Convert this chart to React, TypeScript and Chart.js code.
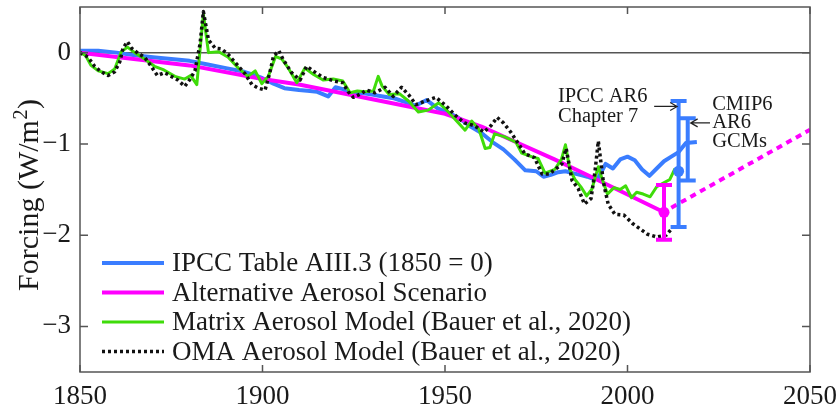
import React, { useEffect, useRef } from "react";
import { Chart, registerables } from "chart.js";

Chart.register(...registerables);

const FONT = '"Liberation Serif", "Times New Roman", serif';

const X_TICKS = [1850, 1900, 1950, 2000, 2050];
const Y_TICKS = [-3, -2, -1, 0];
const Y_TICK_LABELS = ["−3", "−2", "−1", "0"];
const Y_TITLE_MAIN = "Forcing (W/m";
const Y_TITLE_SUP = "2";
const Y_TITLE_END = ")";

const IPCC_YEARS = [1850, 1855, 1860, 1865, 1870, 1875, 1880, 1885, 1890, 1895, 1898, 1900, 1903, 1906, 1910, 1913, 1915, 1918, 1920, 1922, 1924, 1927, 1930, 1933, 1936, 1939, 1942, 1945, 1948, 1951, 1953, 1955, 1957, 1960, 1963, 1966, 1969, 1972, 1975, 1977, 1979, 1981, 1983, 1985, 1987, 1989, 1991, 1992, 1994, 1996, 1998, 2000, 2002, 2004, 2006, 2008, 2010, 2012, 2014, 2016, 2019];
const IPCC_VALUES = [0.02, 0.02, 0.0, -0.03, -0.05, -0.07, -0.09, -0.13, -0.17, -0.21, -0.25, -0.28, -0.34, -0.39, -0.41, -0.42, -0.43, -0.48, -0.38, -0.40, -0.45, -0.44, -0.46, -0.48, -0.50, -0.54, -0.58, -0.52, -0.61, -0.66, -0.70, -0.75, -0.81, -0.88, -0.98, -1.06, -1.17, -1.29, -1.30, -1.36, -1.34, -1.31, -1.30, -1.32, -1.34, -1.36, -1.39, -1.37, -1.22, -1.27, -1.17, -1.14, -1.18, -1.28, -1.35, -1.27, -1.19, -1.14, -1.09, -0.99, -0.98];

const ALT_YEARS = [1850, 1880, 1900, 1910, 1925, 1940, 1950, 1960, 1970, 1980, 1990, 2010];
const ALT_VALUES = [0, -0.14, -0.29, -0.35, -0.47, -0.59, -0.67, -0.81, -0.99, -1.17, -1.36, -1.75];

const ALT_PROJ_YEARS = [2012, 2050];
const ALT_PROJ_VALUES = [-1.7, -0.845];

const MATRIX_YEARS = [1850, 1851.5, 1853, 1855, 1857.7, 1859.5, 1861.3, 1863, 1865, 1867.7, 1870.4, 1873, 1876, 1878.7, 1880.3, 1882, 1883.8, 1885.2, 1888, 1890.6, 1893.4, 1896, 1898, 1899.8, 1901.6, 1903.6, 1905.3, 1907.1, 1909.4, 1911.6, 1914, 1916.6, 1919.4, 1922, 1924, 1926, 1928, 1930.4, 1931.7, 1932.8, 1934.7, 1937.5, 1940, 1942.7, 1945.4, 1948.3, 1950, 1952.5, 1955.5, 1957.3, 1959.3, 1961, 1962.3, 1963.6, 1966.2, 1969.4, 1971, 1973.7, 1975.5, 1977.4, 1980.1, 1981.9, 1983, 1984.2, 1985.6, 1987.4, 1988.8, 1990.2, 1992, 1993, 1994.5, 1996.3, 1998, 1999.5, 2001.1, 2002.5, 2004.3, 2006.2, 2008, 2009.8, 2011.6, 2013];
const MATRIX_VALUES = [0.0, -0.03, -0.14, -0.2, -0.23, -0.18, 0.01, 0.06, 0.0, -0.07, -0.15, -0.19, -0.26, -0.29, -0.25, -0.35, 0.42, 0.0, 0.01, -0.05, -0.17, -0.26, -0.2, -0.34, -0.26, -0.04, -0.07, -0.17, -0.33, -0.17, -0.24, -0.3, -0.29, -0.31, -0.44, -0.42, -0.43, -0.42, -0.26, -0.37, -0.46, -0.45, -0.53, -0.65, -0.63, -0.55, -0.61, -0.72, -0.85, -0.75, -0.84, -1.05, -1.04, -0.89, -0.92, -0.98, -1.1, -1.14, -1.16, -1.32, -1.28, -1.17, -1.01, -1.28, -1.39, -1.48, -1.57, -1.5, -1.25, -1.38, -1.55, -1.48, -1.5, -1.46, -1.59, -1.53, -1.55, -1.58, -1.47, -1.43, -1.39, -1.27];

const OMA_YEARS = [1850, 1852.2, 1854, 1855.8, 1857.7, 1859.5, 1860.9, 1861.8, 1863, 1864.1, 1866, 1867.7, 1869.5, 1871.2, 1873.2, 1875, 1876.8, 1878.7, 1880, 1881.5, 1882.9, 1883.8, 1885.2, 1887, 1888.8, 1890.6, 1893, 1895.2, 1897.1, 1898.9, 1900.7, 1902, 1903, 1904.5, 1905.7, 1908, 1910.3, 1912.1, 1914.2, 1916.5, 1919.5, 1922, 1923.5, 1924.9, 1927, 1928.5, 1930.8, 1933.6, 1935.8, 1938.1, 1940.2, 1942, 1944.7, 1947.5, 1950.2, 1952.9, 1955.3, 1958, 1960.7, 1962.6, 1964.3, 1966, 1968, 1970, 1971.9, 1974.5, 1976.6, 1978.5, 1980.2, 1982, 1983.2, 1984.8, 1986.5, 1988.2, 1990, 1991.1, 1992, 1993.4, 1994.7, 1996.5, 1999, 2001.3, 2003.4, 2005.5, 2008, 2010.6, 2012.5];
const OMA_VALUES = [0.0, -0.05, -0.15, -0.21, -0.25, -0.21, -0.1, 0.05, 0.12, 0.05, -0.01, -0.05, -0.15, -0.25, -0.22, -0.26, -0.3, -0.37, -0.3, -0.2, 0.1, 0.45, 0.14, 0.05, 0.04, -0.02, -0.13, -0.23, -0.35, -0.39, -0.41, -0.22, -0.04, 0.02, -0.08, -0.22, -0.3, -0.15, -0.21, -0.27, -0.31, -0.33, -0.43, -0.49, -0.45, -0.41, -0.44, -0.38, -0.48, -0.38, -0.47, -0.57, -0.53, -0.49, -0.58, -0.69, -0.77, -0.8, -0.87, -0.8, -0.71, -0.77, -0.87, -0.99, -1.11, -1.15, -1.33, -1.33, -1.28, -1.22, -1.05, -1.4, -1.49, -1.66, -1.6, -1.3, -0.97, -1.42, -1.66, -1.77, -1.78, -1.87, -1.93, -1.99, -2.02, -2.0, -1.91];

// Error bars: Alternative (2010), IPCC AR6 Chapter 7 (2014), CMIP6 AR6 GCMs (2016.5)
const ERR_YEARS = [2010, 2014, 2016.5];
const ERR_LOW = [-2.05, -1.91, -1.4];
const ERR_HIGH = [-1.45, -0.53, -0.72];
const ERR_MID = [-1.75, -1.3, null];

const LEGEND_LABELS = [
  "IPCC Table AIII.3 (1850 = 0)",
  "Alternative Aerosol Scenario",
  "Matrix Aerosol Model (Bauer et al., 2020)",
  "OMA Aerosol Model (Bauer et al., 2020)",
];

const BLUE = "#3a7dff";
const PINK = "#ff00ff";
const GREEN = "#3fdc0a";
const BLACK = "#111111";
const AXIS = "#555555";
const TEXT = "#1a1a1a";

const ERR_COLORS = [PINK, BLUE, BLUE];

const xy = (xs: number[], ys: (number | null)[]) =>
  xs.map((x, i) => ({ x, y: ys[i] })).filter((p) => p.y !== null);

function arrow(ctx: CanvasRenderingContext2D, x1: number, y1: number, x2: number, y2: number) {
  const dir = Math.sign(x2 - x1);
  ctx.beginPath();
  ctx.moveTo(x1, y1);
  ctx.lineTo(x2, y2);
  ctx.moveTo(x2 - dir * 7, y2 - 4);
  ctx.lineTo(x2, y2);
  ctx.lineTo(x2 - dir * 7, y2 + 4);
  ctx.stroke();
}

const customPlugin = {
  id: "customDecor",
  beforeDatasetsDraw(chart: any) {
    const { ctx, chartArea: a, scales } = chart;
    const y0 = scales.y.getPixelForValue(0);
    ctx.save();
    ctx.strokeStyle = AXIS;
    ctx.lineWidth = 1.5;
    ctx.beginPath();
    ctx.moveTo(a.left, y0);
    ctx.lineTo(a.right, y0);
    ctx.stroke();
    ctx.restore();
  },
  afterDatasetsDraw(chart: any) {
    const { ctx, scales } = chart;
    const { x, y } = scales;
    ctx.save();
    ERR_YEARS.forEach((yr, i) => {
      const px = x.getPixelForValue(yr);
      const lo = y.getPixelForValue(ERR_LOW[i]);
      const hi = y.getPixelForValue(ERR_HIGH[i]);
      ctx.strokeStyle = ERR_COLORS[i];
      ctx.lineWidth = 4;
      ctx.lineCap = "butt";
      ctx.beginPath();
      ctx.moveTo(px, lo);
      ctx.lineTo(px, hi);
      ctx.moveTo(px - 8, lo);
      ctx.lineTo(px + 8, lo);
      ctx.moveTo(px - 8, hi);
      ctx.lineTo(px + 8, hi);
      ctx.stroke();
      const m = ERR_MID[i];
      if (m !== null) {
        ctx.fillStyle = ERR_COLORS[i];
        ctx.beginPath();
        ctx.arc(px, y.getPixelForValue(m), 5.5, 0, Math.PI * 2);
        ctx.fill();
      }
    });
    ctx.fillStyle = TEXT;
    ctx.strokeStyle = "#222";
    ctx.lineWidth = 1.2;
    ctx.font = `20.5px ${FONT}`;
    ctx.textAlign = "left";
    ctx.textBaseline = "alphabetic";
    const lx = x.getPixelForValue(1980.96);
    ctx.fillText("IPCC AR6", lx, y.getPixelForValue(-0.54));
    ctx.fillText("Chapter 7", lx, y.getPixelForValue(-0.758));
    arrow(ctx, x.getPixelForValue(2007.3), y.getPixelForValue(-0.59), x.getPixelForValue(2013.6), y.getPixelForValue(-0.59));
    const rx = x.getPixelForValue(2023.2);
    ctx.fillText("CMIP6", rx, y.getPixelForValue(-0.63));
    ctx.fillText("AR6", rx, y.getPixelForValue(-0.83));
    ctx.fillText("GCMs", rx, y.getPixelForValue(-1.03));
    arrow(ctx, x.getPixelForValue(2022.6), y.getPixelForValue(-0.77), x.getPixelForValue(2017.3), y.getPixelForValue(-0.77));
    ctx.restore();
  },
  afterDraw(chart: any) {
    const { ctx, chartArea: a, scales } = chart;
    const { x, y } = scales;
    ctx.save();
    ctx.strokeStyle = AXIS;
    ctx.lineWidth = 1.5;
    ctx.strokeRect(a.left, a.top, a.right - a.left, a.bottom - a.top);
    ctx.beginPath();
    X_TICKS.forEach((t) => {
      const px = x.getPixelForValue(t);
      ctx.moveTo(px, a.bottom);
      ctx.lineTo(px, a.bottom - 7);
      ctx.moveTo(px, a.top);
      ctx.lineTo(px, a.top + 7);
    });
    Y_TICKS.forEach((t) => {
      const py = y.getPixelForValue(t);
      ctx.moveTo(a.left, py);
      ctx.lineTo(a.left + 8, py);
      ctx.moveTo(a.right, py);
      ctx.lineTo(a.right - 8, py);
    });
    ctx.stroke();

    // y-axis title with superscript
    ctx.fillStyle = TEXT;
    ctx.textBaseline = "alphabetic";
    ctx.textAlign = "left";
    const mainFont = `30px ${FONT}`;
    const supFont = `20px ${FONT}`;
    ctx.font = mainFont;
    const w1 = ctx.measureText(Y_TITLE_MAIN).width;
    const w3 = ctx.measureText(Y_TITLE_END).width;
    ctx.font = supFont;
    const w2 = ctx.measureText(Y_TITLE_SUP).width;
    const total = w1 + w2 + w3 + 1;
    ctx.save();
    ctx.translate(a.left - 42, (a.top + a.bottom) / 2 + 5.5);
    ctx.rotate(-Math.PI / 2);
    const sx = -total / 2;
    ctx.font = mainFont;
    ctx.fillText(Y_TITLE_MAIN, sx, 0);
    ctx.font = supFont;
    ctx.fillText(Y_TITLE_SUP, sx + w1 + 0.5, -11);
    ctx.font = mainFont;
    ctx.fillText(Y_TITLE_END, sx + w1 + w2 + 1, 0);
    ctx.restore();

    // legend
    const ds = chart.data.datasets;
    const legendSets = [ds[0], ds[1], ds[3], ds[4]];
    ctx.font = `27px ${FONT}`;
    ctx.fillStyle = TEXT;
    ctx.textAlign = "left";
    ctx.textBaseline = "middle";
    LEGEND_LABELS.forEach((label, i) => {
      const rowY = a.top + 256 + i * 29.5;
      const d = legendSets[i];
      ctx.strokeStyle = d.borderColor;
      ctx.lineWidth = d.borderWidth;
      ctx.setLineDash(d.borderDash || []);
      ctx.lineCap = "butt";
      ctx.beginPath();
      ctx.moveTo(a.left + 22, rowY);
      ctx.lineTo(a.left + 84, rowY);
      ctx.stroke();
      ctx.setLineDash([]);
      ctx.fillText(label, a.left + 92, rowY + 1);
    });
    ctx.restore();
  },
};

export default function App() {
  const canvasRef = useRef<HTMLCanvasElement | null>(null);

  useEffect(() => {
    const canvas = canvasRef.current;
    if (!canvas) return;
    const lineBase = { pointRadius: 0, tension: 0, fill: false, borderJoinStyle: "round" as const };
    const chart = new Chart(canvas, {
      type: "line",
      data: {
        datasets: [
          { ...lineBase, label: "IPCC", data: xy(IPCC_YEARS, IPCC_VALUES), borderColor: BLUE, borderWidth: 4, order: 3 },
          { ...lineBase, label: "Alternative", data: xy(ALT_YEARS, ALT_VALUES), borderColor: PINK, borderWidth: 4, order: 2 },
          { ...lineBase, label: "Alternative projection", data: xy(ALT_PROJ_YEARS, ALT_PROJ_VALUES), borderColor: PINK, borderWidth: 4, borderDash: [6, 5], order: 2 },
          { ...lineBase, label: "Matrix", data: xy(MATRIX_YEARS, MATRIX_VALUES), borderColor: GREEN, borderWidth: 3, order: 1 },
          { ...lineBase, label: "OMA", data: xy(OMA_YEARS, OMA_VALUES), borderColor: BLACK, borderWidth: 3.5, borderDash: [3, 3], order: 0 },
        ] as any,
      },
      options: {
        responsive: false,
        animation: false,
        devicePixelRatio: 1,
        layout: { padding: { top: 7, right: 29, left: 0, bottom: 0 } },
        plugins: { legend: { display: false }, tooltip: { enabled: false } },
        scales: {
          x: {
            type: "linear",
            min: 1850,
            max: 2050,
            afterBuildTicks: (s: any) => {
              s.ticks = X_TICKS.map((v) => ({ value: v }));
            },
            afterFit: (s: any) => {
              s.height = 35;
              s.paddingLeft = 0;
              s.paddingRight = 0;
              s.paddingTop = 0;
              s.paddingBottom = 0;
            },
            grid: { display: false, drawTicks: false },
            border: { display: false },
            ticks: {
              autoSkip: false,
              maxRotation: 0,
              padding: 9,
              color: TEXT,
              font: { family: FONT, size: 27, lineHeight: 1.2 },
              callback: (v: any) => String(v),
            },
          },
          y: {
            type: "linear",
            min: -3.5,
            max: 0.5,
            afterBuildTicks: (s: any) => {
              s.ticks = Y_TICKS.map((v) => ({ value: v }));
            },
            afterFit: (s: any) => {
              s.width = 80;
              s.paddingLeft = 0;
              s.paddingRight = 0;
              s.paddingTop = 0;
              s.paddingBottom = 0;
            },
            grid: { display: false, drawTicks: false },
            border: { display: false },
            ticks: {
              padding: 9,
              color: TEXT,
              font: { family: FONT, size: 27, lineHeight: 1.2 },
              callback: (v: any) => Y_TICK_LABELS[Y_TICKS.indexOf(v)] ?? "",
            },
          },
        },
      },
      plugins: [customPlugin],
    });
    return () => chart.destroy();
  }, []);

  return (
    <div style={{ position: "fixed", left: 0, top: 0, width: 839, height: 407, background: "#fff" }}>
      <canvas ref={canvasRef} width={839} height={407} style={{ display: "block" }} />
    </div>
  );
}
